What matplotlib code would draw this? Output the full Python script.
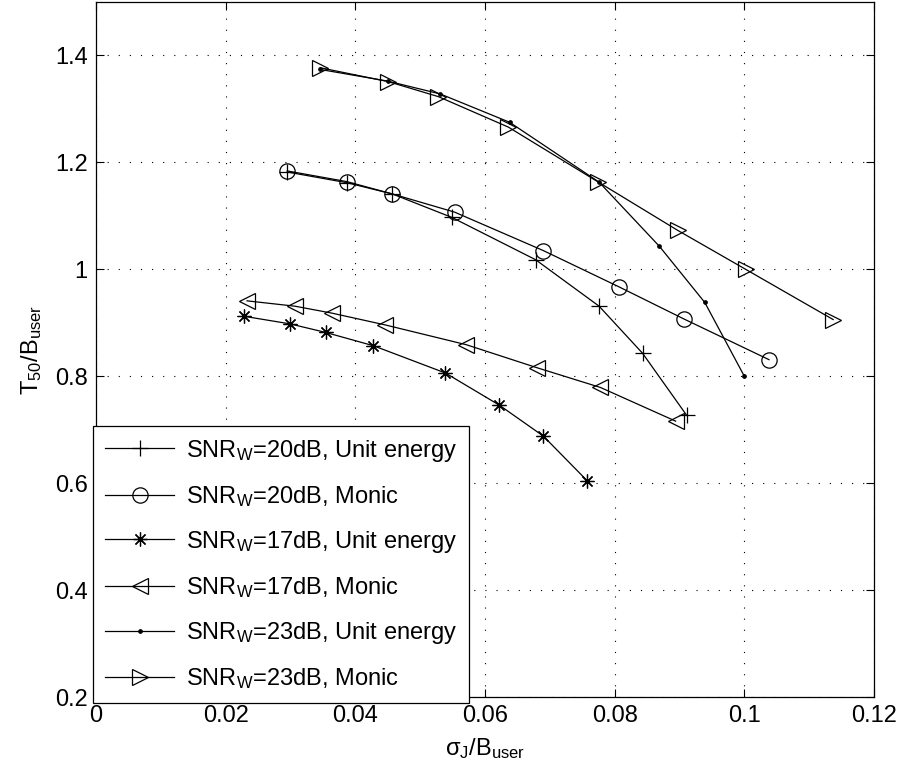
#!/usr/bin/env python3

import matplotlib
matplotlib.use("Agg")
import matplotlib.pyplot as plt

# sigma_J / B_user and T50 / B_user per curve
x_20_unit = [0.0295, 0.0387, 0.0457, 0.0549, 0.0678, 0.0776, 0.0843, 0.0911]
y_20_unit = [1.182, 1.162, 1.141, 1.097, 1.018, 0.931, 0.843, 0.727]

x_20_monic = [0.0295, 0.0387, 0.0457, 0.0553, 0.0690, 0.0807, 0.0907, 0.1038]
y_20_monic = [1.184, 1.164, 1.141, 1.107, 1.035, 0.967, 0.907, 0.831]

x_17_unit = [0.0229, 0.0299, 0.0354, 0.0428, 0.0539, 0.0622, 0.0690, 0.0758]
y_17_unit = [0.912, 0.898, 0.882, 0.857, 0.806, 0.746, 0.688, 0.604]

x_17_monic = [0.0233, 0.0307, 0.0364, 0.0446, 0.0571, 0.0680, 0.0778, 0.0894]
y_17_monic = [0.941, 0.931, 0.918, 0.896, 0.859, 0.816, 0.779, 0.716]

x_23_unit = [0.0345, 0.0450, 0.0531, 0.0638, 0.0776, 0.0869, 0.0939, 0.1000]
y_23_unit = [1.374, 1.352, 1.328, 1.275, 1.163, 1.043, 0.938, 0.800]

x_23_monic = [0.0346, 0.0451, 0.0528, 0.0636, 0.0775, 0.0897, 0.1002, 0.1137]
y_23_monic = [1.377, 1.351, 1.323, 1.266, 1.163, 1.073, 1.000, 0.906]

labels = [
    r"SNR$_\mathrm{W}$=20dB, Unit energy",
    r"SNR$_\mathrm{W}$=20dB, Monic",
    r"SNR$_\mathrm{W}$=17dB, Unit energy",
    r"SNR$_\mathrm{W}$=17dB, Monic",
    r"SNR$_\mathrm{W}$=23dB, Unit energy",
    r"SNR$_\mathrm{W}$=23dB, Monic",
]

x_ticks = [0, 0.02, 0.04, 0.06, 0.08, 0.1, 0.12]
x_ticklabels = ["0", "0.02", "0.04", "0.06", "0.08", "0.1", "0.12"]
y_ticks = [0.2, 0.4, 0.6, 0.8, 1.0, 1.2, 1.4]
y_ticklabels = ["0.2", "0.4", "0.6", "0.8", "1", "1.2", "1.4"]


def main():
    plt.rcParams["font.family"] = ["Liberation Sans", "DejaVu Sans"]
    plt.rcParams["mathtext.fontset"] = "custom"
    plt.rcParams["mathtext.rm"] = "Liberation Sans"
    plt.rcParams["mathtext.it"] = "Liberation Sans"
    fs = 17
    plt.rcParams["font.size"] = fs

    fig = plt.figure(figsize=(9.02, 7.73), dpi=100)
    ax = fig.add_axes([96 / 902, 76 / 773, 778 / 902, 695 / 773])

    lw = 0.9
    ms = 11
    common = dict(color="black", linewidth=lw, markeredgewidth=lw)
    ax.plot(x_20_unit, y_20_unit, marker="+", markersize=ms + 1, label=labels[0], **common)
    ax.plot(x_20_monic, y_20_monic, marker="o", markersize=ms, markerfacecolor="none",
            label=labels[1], **common)
    ax.plot(x_17_unit, y_17_unit, marker=(8, 2, 0), markersize=ms - 1, label=labels[2], **common)
    ax.plot(x_17_monic, y_17_monic, marker="<", markersize=ms, markerfacecolor="none",
            label=labels[3], **common)
    ax.plot(x_23_unit, y_23_unit, marker=".", markersize=5, label=labels[4], **common)
    ax.plot(x_23_monic, y_23_monic, marker=">", markersize=ms, markerfacecolor="none",
            label=labels[5], **common)

    ax.set_xlim(0, 0.12)
    ax.set_ylim(0.2, 1.5)
    ax.set_xticks(x_ticks)
    ax.set_xticklabels(x_ticklabels)
    ax.set_yticks(y_ticks)
    ax.set_yticklabels(y_ticklabels)
    ax.tick_params(direction="in", top=True, right=True, length=6, width=0.8,
                   labelsize=fs, pad=6)
    ax.grid(True, linestyle=(0, (1, 9)), color="black", linewidth=0.8)
    for s in ax.spines.values():
        s.set_linewidth(0.9)

    ax.set_xlabel(r"$\sigma_\mathrm{J}$/B$_\mathrm{user}$", fontsize=fs, labelpad=6)
    ax.set_ylabel(r"T$_\mathrm{50}$/B$_\mathrm{user}$", fontsize=fs, labelpad=8)

    leg = ax.legend(loc="lower left", bbox_to_anchor=(-0.004, -0.008), borderaxespad=0,
                    fancybox=False, framealpha=1, edgecolor="black", handlelength=2.95,
                    handletextpad=0.5, labelspacing=0.85, borderpad=0.5, fontsize=fs)
    leg.get_frame().set_linewidth(0.9)

    fig.savefig("out.png", dpi=100)


if __name__ == "__main__":
    main()
